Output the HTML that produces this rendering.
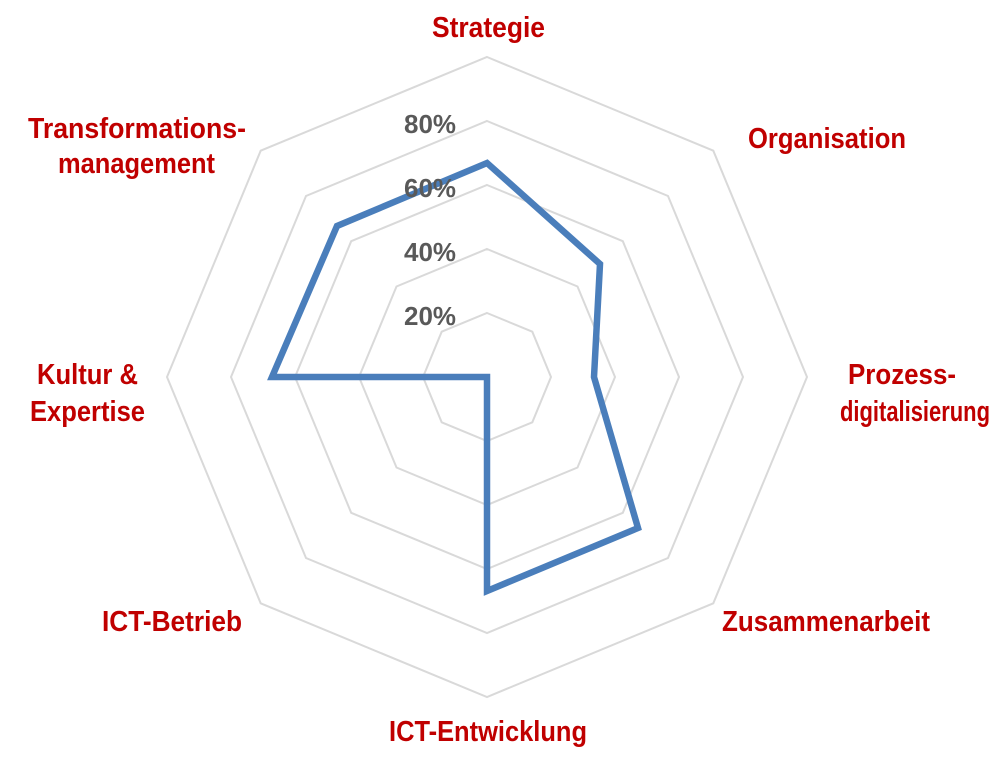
<!DOCTYPE html>
<html><head><meta charset="utf-8"><style>html,body{margin:0;padding:0;background:#fff;}</style></head>
<body>
<svg width="1000" height="766" xmlns="http://www.w3.org/2000/svg">
<g fill="none" stroke="#d9d9d9" stroke-width="2">
<polygon points="487,313 532.3,331.7 551,377 532.3,422.3 487,441 441.7,422.3 423,377 441.7,331.7"/>
<polygon points="487,249 577.5,286.5 615,377 577.5,467.5 487,505 396.5,467.5 359,377 396.5,286.5"/>
<polygon points="487,185 622.8,241.2 679,377 622.8,512.8 487,569 351.2,512.8 295,377 351.2,241.2"/>
<polygon points="487,121 668,196 743,377 668,558 487,633 306,558 231,377 306,196"/>
<polygon points="487,57 713.3,150.7 807,377 713.3,603.3 487,697 260.7,603.3 167,377 260.7,150.7"/>
</g>
<polygon points="487,163 600,264 594,377 638,528 487,591 487,377 272,377 337,226" fill="none" stroke="#4a7ebb" stroke-width="6.5" stroke-linejoin="miter"/>
<g font-family="Liberation Sans, sans-serif" font-weight="bold" font-size="26" fill="#595959" text-anchor="end">
<text x="456" y="133" textLength="52" lengthAdjust="spacingAndGlyphs">80%</text>
<text x="456" y="197" textLength="52" lengthAdjust="spacingAndGlyphs">60%</text>
<text x="456" y="261" textLength="52" lengthAdjust="spacingAndGlyphs">40%</text>
<text x="456" y="325" textLength="52" lengthAdjust="spacingAndGlyphs">20%</text>
</g>
<g font-family="Liberation Sans, sans-serif" font-weight="bold" font-size="29" fill="#c00000">
<text x="432" y="37" textLength="113" lengthAdjust="spacingAndGlyphs">Strategie</text>
<text x="748" y="148" textLength="158" lengthAdjust="spacingAndGlyphs">Organisation</text>
<text x="848" y="384" textLength="108" lengthAdjust="spacingAndGlyphs">Prozess-</text>
<text x="840" y="421" textLength="150" lengthAdjust="spacingAndGlyphs">digitalisierung</text>
<text x="722" y="631" textLength="208" lengthAdjust="spacingAndGlyphs">Zusammenarbeit</text>
<text x="389" y="741" textLength="198" lengthAdjust="spacingAndGlyphs">ICT-Entwicklung</text>
<text x="102" y="631" textLength="140" lengthAdjust="spacingAndGlyphs">ICT-Betrieb</text>
<text x="37" y="384" textLength="101" lengthAdjust="spacingAndGlyphs">Kultur &amp;</text>
<text x="30" y="421" textLength="115" lengthAdjust="spacingAndGlyphs">Expertise</text>
<text x="28" y="138" textLength="218" lengthAdjust="spacingAndGlyphs">Transformations-</text>
<text x="58" y="173" textLength="157" lengthAdjust="spacingAndGlyphs">management</text>
</g>
</svg>
</body></html>
